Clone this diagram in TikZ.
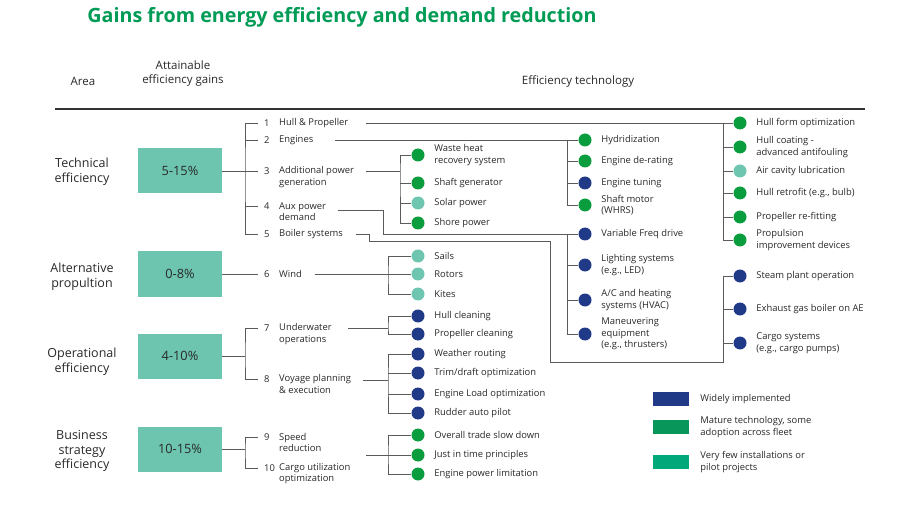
\documentclass[tikz,border=0pt]{standalone}
\usepackage{fontspec}
\setmainfont{Open Sans}
\usepackage{tikz}
\usetikzlibrary{positioning}

\definecolor{titlegreen}{RGB}{0,155,85}
\definecolor{gainteal}{RGB}{109,197,176}
\definecolor{wideblue}{RGB}{33,58,135}
\definecolor{maturegreen}{RGB}{10,157,62}
\definecolor{fewteal}{RGB}{110,198,176}
\definecolor{keygreen}{RGB}{8,150,90}
\definecolor{keyteal}{RGB}{0,168,122}
\definecolor{linegray}{RGB}{90,90,90}
\definecolor{textgray}{RGB}{40,40,40}

\newcommand\techfont{\fontsize{9.4}{11.5}\selectfont}

\tikzstyle{heading} = [font=\fontsize{11.5}{14}\selectfont, text=textgray, align=center]
\tikzstyle{area} = [font=\fontsize{12.5}{14.5}\selectfont, text=textgray, align=center]
\tikzstyle{gain} = [fill=gainteal, minimum width=84pt, minimum height=45pt, font=\fontsize{12.8}{15}\selectfont, text=textgray]
\tikzstyle{num} = [anchor=west, inner xsep=6pt, inner ysep=0pt, font=\techfont, text=textgray]
\tikzstyle{item} = [anchor=west, inner sep=0pt, align=left, font=\techfont, text=textgray]
\tikzstyle{dot} = [circle, minimum size=13pt, inner sep=0pt]
\tikzstyle{tech} = [inner sep=0pt, align=left, font=\techfont, text=textgray]
\tikzstyle{keybox} = [minimum width=36pt, minimum height=14pt, inner sep=0pt]
\tikzstyle{link} = [linegray, line width=0.8pt]

\begin{document}
\begin{tikzpicture}[x=1pt, y=-1pt]
        \useasboundingbox (0,0) rectangle (913,513);

        % Title and headings
        \node[font=\fontsize{19.7}{22}\selectfont\bfseries, text=titlegreen] (title) at (342,17) {Gains from energy efficiency and demand reduction};
        \node[heading] (harea) at (83,81) {Area};
        \node[heading] (hgain) at (183,74) {Attainable\\efficiency gains};
        \node[heading] (htech) at (578,81) {Efficiency technology};
        \draw[black!80, line width=1.5pt] (55,109) -- (865,109);

        % Areas and gains
        \node[area] (a1) at (82,172) {Technical\\efficiency};
        \node[area] (a2) at (82,277) {Alternative\\propultion};
        \node[area] (a3) at (82,362) {Operational\\efficiency};
        \node[area] (a4) at (82,451) {Business\\strategy\\efficiency};

        \node[gain] (g1) at (180,171) {5-15\%};
        \node[gain] (g2) at (180,274) {0-8\%};
        \node[gain] (g3) at (180,356) {4-10\%};
        \node[gain] (g4) at (180,449) {10-15\%};

        % Numbered items
        \node[num] (n1) at (258,123) {1};
        \node[num] (n2) at (258,140) {2};
        \node[num] (n3) at (258,171) {3};
        \node[num] (n4) at (258,206) {4};
        \node[num] (n5) at (258,234) {5};
        \node[num] (n6) at (258,274) {6};
        \node[num] (n7) at (258,328) {7};
        \node[num] (n8) at (258,379) {8};
        \node[num] (n9) at (258,437) {9};
        \node[num] (n10) at (258,468) {10};

        \node[item] (i1) at (279,123) {Hull \& Propeller};
        \node[item] (i2) at (279,140) {Engines};
        \node[item] (i3) at (279,177) {Additional power\\generation};
        \node[item] (i4) at (279,211.5) {Aux power\\demand};
        \node[item] (i5) at (279,234) {Boiler systems};
        \node[item] (i6) at (279,274) {Wind};
        \node[item] (i7) at (279,334) {Underwater\\operations};
        \node[item] (i8) at (279,384) {Voyage planning\\\& execution};
        \node[item] (i9) at (279,442.5) {Speed\\reduction};
        \node[item] (i10) at (279,473.5) {Cargo utilization\\optimization};

        % Power generation column
        \node[dot, fill=maturegreen] (w1) at (418,155) {};
        \node[dot, fill=maturegreen] (w2) at (418,183) {};
        \node[dot, fill=fewteal] (w3) at (418,203) {};
        \node[dot, fill=maturegreen] (w4) at (418,223) {};
        \node[tech, right=9.5pt of w1] (tw1) {Waste heat\\recovery system};
        \node[tech, right=9.5pt of w2] (tw2) {Shaft generator};
        \node[tech, right=9.5pt of w3] (tw3) {Solar power};
        \node[tech, right=9.5pt of w4] (tw4) {Shore power};

        % Wind column
        \node[dot, fill=fewteal] (d1) at (418,256) {};
        \node[dot, fill=fewteal] (d2) at (418,274) {};
        \node[dot, fill=fewteal] (d3) at (418,294) {};
        \node[tech, right=9.5pt of d1] (td1) {Sails};
        \node[tech, right=9.5pt of d2] (td2) {Rotors};
        \node[tech, right=9.5pt of d3] (td3) {Kites};

        % Operations column
        \node[dot, fill=wideblue] (o1) at (418,316) {};
        \node[dot, fill=wideblue] (o2) at (418,334) {};
        \node[dot, fill=wideblue] (o3) at (418,354) {};
        \node[dot, fill=wideblue] (o4) at (418,373) {};
        \node[dot, fill=wideblue] (o5) at (418,394) {};
        \node[dot, fill=wideblue] (o6) at (418,413) {};
        \node[tech, right=9.5pt of o1] (to1) {Hull cleaning};
        \node[tech, right=9.5pt of o2] (to2) {Propeller cleaning};
        \node[tech, right=9.5pt of o3] (to3) {Weather routing};
        \node[tech, right=9.5pt of o4] (to4) {Trim/draft optimization};
        \node[tech, right=9.5pt of o5] (to5) {Engine Load optimization};
        \node[tech, right=9.5pt of o6] (to6) {Rudder auto pilot};

        % Business column
        \node[dot, fill=maturegreen] (z1) at (418,435) {};
        \node[dot, fill=maturegreen] (z2) at (418,455) {};
        \node[dot, fill=maturegreen] (z3) at (418,474) {};
        \node[tech, right=9.5pt of z1] (tz1) {Overall trade slow down};
        \node[tech, right=9.5pt of z2] (tz2) {Just in time principles};
        \node[tech, right=9.5pt of z3] (tz3) {Engine power limitation};

        % Engines and aux power column
        \node[dot, fill=maturegreen] (m1) at (585,140) {};
        \node[dot, fill=maturegreen] (m2) at (585,161) {};
        \node[dot, fill=wideblue] (m3) at (585,183) {};
        \node[dot, fill=maturegreen] (m4) at (585,205) {};
        \node[dot, fill=wideblue] (m5) at (585,234) {};
        \node[dot, fill=wideblue] (m6) at (585,265) {};
        \node[dot, fill=wideblue] (m7) at (585,300) {};
        \node[dot, fill=wideblue] (m8) at (585,334) {};
        \node[tech, right=9.5pt of m1] (tm1) {Hydridization};
        \node[tech, right=9.5pt of m2] (tm2) {Engine de-rating};
        \node[tech, right=9.5pt of m3] (tm3) {Engine tuning};
        \node[tech, right=9.5pt of m4] (tm4) {Shaft motor\\(WHRS)};
        \node[tech, right=9.5pt of m5] (tm5) {Variable Freq drive};
        \node[tech, right=9.5pt of m6] (tm6) {Lighting systems\\(e.g., LED)};
        \node[tech, right=9.5pt of m7] (tm7) {A/C and heating\\systems (HVAC)};
        \node[tech, right=9.5pt of m8] (tm8) {Maneuvering\\equipment\\(e.g., thrusters)};

        % Hull and boiler column
        \node[dot, fill=maturegreen] (r1) at (740,123) {};
        \node[dot, fill=maturegreen] (r2) at (740,147) {};
        \node[dot, fill=fewteal] (r3) at (740,171) {};
        \node[dot, fill=maturegreen] (r4) at (740,193) {};
        \node[dot, fill=maturegreen] (r5) at (740,217) {};
        \node[dot, fill=maturegreen] (r6) at (740,240) {};
        \node[dot, fill=wideblue] (b1) at (740,276) {};
        \node[dot, fill=wideblue] (b2) at (740,309) {};
        \node[dot, fill=wideblue] (b3) at (740,343) {};
        \node[tech, right=9.5pt of r1] (tr1) {Hull form optimization};
        \node[tech, right=9.5pt of r2] (tr2) {Hull coating -\\advanced antifouling};
        \node[tech, right=9.5pt of r3] (tr3) {Air cavity lubrication};
        \node[tech, right=9.5pt of r4] (tr4) {Hull retrofit (e.g., bulb)};
        \node[tech, right=9.5pt of r5] (tr5) {Propeller re-fitting};
        \node[tech, right=9.5pt of r6] (tr6) {Propulsion\\improvement devices};
        \node[tech, right=9.5pt of b1] (tb1) {Steam plant operation};
        \node[tech, right=9.5pt of b2] (tb2) {Exhaust gas boiler on AE};
        \node[tech, right=9.5pt of b3] (tb3) {Cargo systems\\(e.g., cargo pumps)};

        % Legend
        \node[keybox, fill=wideblue] (k1) at (671,399) {};
        \node[keybox, fill=keygreen] (k2) at (671,427) {};
        \node[keybox, fill=keyteal] (k3) at (671,462) {};
        \node[tech, right=11pt of k1] (tk1) {Widely implemented};
        \node[tech, right=11pt of k2] (tk2) {Mature technology, some\\adoption across fleet};
        \node[tech, right=11pt of k3] (tk3) {Very few installations or\\pilot projects};

        % Free ends and bends
        \coordinate (q1) at (245,171);
        \coordinate (q3) at (245,356);
        \coordinate (q4) at (245,449);
        \coordinate (e1) at (366,123);
        \coordinate (e2) at (335,140);
        \coordinate (e3) at (366,171);
        \coordinate (e4) at (338,210);
        \coordinate (e5) at (356,234);
        \coordinate (e6) at (315,274);
        \coordinate (e7) at (348,328);
        \coordinate (e8) at (363,380);
        \coordinate (e9) at (366,455);
        \coordinate (s3) at (400,171);
        \coordinate (s6) at (388,274);
        \coordinate (s7) at (388,328);
        \coordinate (s8) at (388,380);
        \coordinate (s9) at (388,455);
        \coordinate (k4) at (383,234);
        \coordinate (k5a) at (369,241);
        \coordinate (k5b) at (550,362);
        \coordinate (sm) at (567,140);
        \coordinate (sv) at (567,234);
        \coordinate (sr) at (723,123);
        \coordinate (sb) at (723,362);

        % Area brackets
        \draw[link] (g1.east) -- (n3.west);
        \draw[link] (n1.west) -| (q1) |- (n5.west);
        \draw[link] (q1 |- n2) -- (n2.west);
        \draw[link] (q1 |- n4) -- (n4.west);
        \draw[link] (g2.east) -- (n6.west);
        \draw[link] (g3.east) -- (q3);
        \draw[link] (n7.west) -| (q3) |- (n8.west);
        \draw[link] (g4.east) -- (q4);
        \draw[link] (n9.west) -| (q4) |- (n10.west);

        % Item links
        \draw[link] (e1) -- (r1.west);
        \draw[link] (sr) |- (r6.west);
        \draw[link] (sr |- r2) -- (r2.west);
        \draw[link] (sr |- r3) -- (r3.west);
        \draw[link] (sr |- r4) -- (r4.west);
        \draw[link] (sr |- r5) -- (r5.west);

        \draw[link] (e2) -- (m1.west);
        \draw[link] (sm) |- (m4.west);
        \draw[link] (sm |- m2) -- (m2.west);
        \draw[link] (sm |- m3) -- (m3.west);

        \draw[link] (e3) -- (s3);
        \draw[link] (w1.west) -| (s3) |- (w4.west);
        \draw[link] (s3 |- w2) -- (w2.west);
        \draw[link] (s3 |- w3) -- (w3.west);

        \draw[link] (e4) -| (k4) -- (m5.west);
        \draw[link] (sv) |- (m8.west);
        \draw[link] (sv |- m6) -- (m6.west);
        \draw[link] (sv |- m7) -- (m7.west);

        \draw[link] (e5) -| (k5a) -| (k5b) -- (sb) |- (b1.west);
        \draw[link] (sb |- b2) -- (b2.west);
        \draw[link] (sb |- b3) -- (b3.west);

        \draw[link] (e6) -- (d2.west);
        \draw[link] (d1.west) -| (s6) |- (d3.west);

        \draw[link] (e7) -- (s7);
        \draw[link] (o1.west) -| (s7) |- (o2.west);

        \draw[link] (e8) -- (s8);
        \draw[link] (o3.west) -| (s8) |- (o6.west);
        \draw[link] (s8 |- o4) -- (o4.west);
        \draw[link] (s8 |- o5) -- (o5.west);

        \draw[link] (e9) -- (z2.west);
        \draw[link] (z1.west) -| (s9) |- (z3.west);
      \end{tikzpicture}
\end{document}
